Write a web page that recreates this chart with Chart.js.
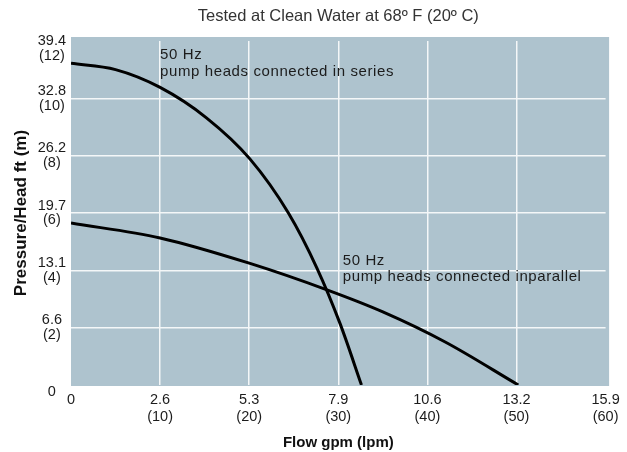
<!DOCTYPE html>
<html>
<head>
<meta charset="utf-8">
<script src="https://cdn.jsdelivr.net/npm/chart.js@4.4.1/dist/chart.umd.min.js"></script>
<style>
html,body{margin:0;padding:0;background:#ffffff;}
#wrap{width:627px;height:452px;position:relative;}
</style>
</head>
<body>
<div id="wrap"><canvas id="c" width="627" height="452"></canvas></div>
<script>
// ---------- data ----------
const chartTitle = 'Tested at Clean Water at 68º F (20º C)';
const xAxisTitle = 'Flow gpm (lpm)';
const yAxisTitle = 'Pressure/Head ft (m)';

const xTickLpm = [0, 10, 20, 30, 40, 50, 60];
const xTickGpm = ['0', '2.6', '5.3', '7.9', '10.6', '13.2', '15.9'];
const yTickM   = [0, 2, 4, 6, 8, 10, 12];
const yTickFt  = ['0', '6.6', '13.1', '19.7', '26.2', '32.8', '39.4'];

// 50 Hz, pump heads in series  (flow lpm, head m)
const seriesFlow = [0, 5, 10, 15.2, 20.1, 24.4, 27.6, 30.2, 32.6];
const seriesHead = [11.22, 11.00, 10.38, 9.32, 7.88, 6.00, 4.08, 2.14, 0];

// 50 Hz, pump heads in parallel (flow lpm, head m)
const parallelFlow = [0, 10, 20, 28.8, 35, 42, 50.2];
const parallelHead = [5.65, 5.13, 4.25, 3.31, 2.55, 1.50, 0];

const seriesNote   = ['50 Hz', 'pump heads connected in series'];
const parallelNote = ['50 Hz', 'pump heads connected inparallel'];

// ---------- chart ----------
const FONT = '"Liberation Sans", Arial, Helvetica, sans-serif';
const toPts = (xs, ys) => xs.map((x, i) => ({x: x, y: ys[i]}));

const notes = [
  {lines: seriesNote,   x: 10.0, y: 11.36},
  {lines: parallelNote, x: 30.5, y: 4.19}
];

const bgPlugin = {
  id: 'plotBg',
  beforeDraw(chart) {
    const {ctx, chartArea: a} = chart;
    ctx.save();
    ctx.fillStyle = '#aec3ce';
    ctx.fillRect(a.left, a.top - 4, a.right - a.left + 3.5, a.bottom - a.top + 5);
    ctx.restore();
  }
};

const notePlugin = {
  id: 'notes',
  afterDatasetsDraw(chart) {
    const {ctx, scales: {x, y}} = chart;
    ctx.save();
    ctx.font = '15px ' + FONT;
    ctx.fillStyle = '#1c1c1c';
    ctx.textAlign = 'left';
    ctx.textBaseline = 'alphabetic';
    try { ctx.letterSpacing = '0.6px'; } catch (e) {}
    notes.forEach(n => {
      const px = x.getPixelForValue(n.x);
      const py = y.getPixelForValue(n.y);
      n.lines.forEach((t, i) => ctx.fillText(t, px, py + i * 16.5));
    });
    ctx.restore();
  }
};

const hideEdge = (lo, hi) => (c) => {
  if (!c.tick) return '#f4f7f8';
  return (c.tick.value === lo || c.tick.value === hi) ? 'rgba(0,0,0,0)' : '#f4f7f8';
};

new Chart(document.getElementById('c'), {
  type: 'line',
  data: {
    datasets: [
      {
        label: 'series',
        data: toPts(seriesFlow, seriesHead),
        borderColor: '#000000',
        borderWidth: 3,
        pointRadius: 0,
        fill: false,
        cubicInterpolationMode: 'monotone'
      },
      {
        label: 'parallel',
        data: toPts(parallelFlow, parallelHead),
        borderColor: '#000000',
        borderWidth: 3,
        pointRadius: 0,
        fill: false,
        cubicInterpolationMode: 'monotone'
      }
    ]
  },
  options: {
    responsive: false,
    animation: false,
    devicePixelRatio: 1,
    layout: {padding: {left: 0, right: 21.4, top: 0, bottom: 0}},
    plugins: {
      legend: {display: false},
      tooltip: {enabled: false},
      title: {
        display: true,
        text: chartTitle,
        fullSize: false,
        color: '#333333',
        font: {family: FONT, size: 16.5, weight: 'normal', lineHeight: 1.2},
        padding: {top: 6.6, bottom: 14.6}
      }
    },
    scales: {
      x: {
        type: 'linear',
        min: 0,
        max: 60,
        afterBuildTicks: (s) => { s.ticks = xTickLpm.map(v => ({value: v})); },
        afterFit: (s) => { s.height = 67; },
        border: {display: false},
        grid: {color: hideEdge(0, 60), lineWidth: 1.5, drawTicks: false},
        ticks: {
          autoSkip: false,
          maxRotation: 0,
          padding: 6,
          color: '#1c1c1c',
          font: {family: FONT, size: 14.5, lineHeight: 1.2},
          callback: (v) => {
            const i = xTickLpm.indexOf(v);
            return i === 0 ? [xTickGpm[0]] : [xTickGpm[i], '(' + v + ')'];
          }
        },
        title: {
          display: true,
          text: xAxisTitle,
          color: '#111111',
          font: {family: FONT, size: 15, weight: 'bold', lineHeight: 1.2},
          padding: {top: 0, bottom: 0}
        }
      },
      y: {
        type: 'linear',
        min: 0,
        max: 12,
        afterBuildTicks: (s) => { s.ticks = yTickM.map(v => ({value: v})); },
        afterFit: (s) => { s.width = 71; },
        border: {display: false},
        grid: {color: hideEdge(0, 12), lineWidth: 1.5, drawTicks: false},
        ticks: {
          autoSkip: false,
          crossAlign: 'center',
          padding: 5,
          color: '#1c1c1c',
          font: {family: FONT, size: 14.5, lineHeight: 1.0},
          callback: (v) => {
            const i = yTickM.indexOf(v);
            if (i === 0) return ['', yTickFt[0]];
            if (i === yTickM.length - 1) return ['', yTickFt[i], '(' + v + ')'];
            return [yTickFt[i], '(' + v + ')'];
          }
        },
        title: {
          display: true,
          text: yAxisTitle,
          color: '#111111',
          font: {family: FONT, size: 17, weight: 'bold', lineHeight: 1.2},
          padding: {top: 10.8, bottom: 0}
        }
      }
    }
  },
  plugins: [bgPlugin, notePlugin]
});
</script>
</body>
</html>
